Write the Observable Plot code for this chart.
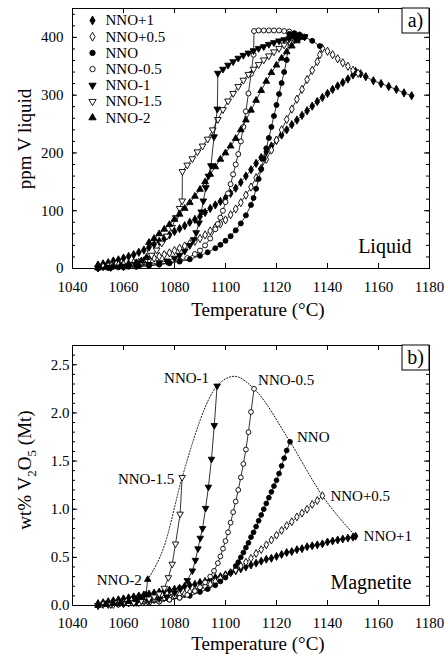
<!DOCTYPE html>
<html>
<head>
<meta charset="utf-8">
<script src="https://cdn.jsdelivr.net/npm/d3@7"></script>
<script src="https://cdn.jsdelivr.net/npm/@observablehq/plot@0.6"></script>
<style>
  body { margin: 0; background: #fff; }
  #chart { width: 444px; }
  #chart svg { display: block; }
  #chart svg, #chart svg text { font-family: "Liberation Serif", "DejaVu Serif", serif !important; }
</style>
</head>
<body>
<div id="chart"></div>
<script>
// ---- Buffer labels (oxygen fugacity relative to Ni-NiO) ----
const seriesNames = ["NNO+1", "NNO+0.5", "NNO", "NNO-0.5", "NNO-1", "NNO-1.5", "NNO-2"];

// ---- Axis ticks ----
const tempTicks = [1040, 1060, 1080, 1100, 1120, 1140, 1160, 1180];
const liqTicks = [0, 100, 200, 300, 400];
const mtTicks = [0, 0.5, 1.0, 1.5, 2.0, 2.5];

// ---- (a) V in liquid, ppm: [temperature °C, ppm] ----
const liqNNOp1 = [[1050,6],[1052,8],[1054,10],[1056,13],[1058,15],[1060,18],[1062,21],[1064,24],[1066,28],[1068,32],[1070,37],[1072,42],[1074,47],[1076,52],[1078,58],[1080,64],[1082,69],[1084,74],[1086,80],[1088,85],[1090,90],[1092,97],[1094,104],[1096,110],[1098,116],[1100,122],[1102,130],[1104,139],[1106,149],[1108,160],[1110,171],[1112,182],[1114,192],[1116,202],[1118,212],[1120,222],[1122,231],[1124,240],[1126,249],[1128,257],[1130,265],[1132,273],[1134,281],[1136,289],[1138,296],[1140,303],[1142,310],[1144,316],[1146,322],[1148,328],[1150,335],[1151,341],[1153,337],[1155,332],[1158,325],[1161,320],[1164,315],[1167,310],[1170,304],[1173,299]];
const liqNNOp05 = [[1050,2],[1052,3],[1054,4],[1056,5],[1058,6],[1060,7],[1062,8],[1064,10],[1066,11],[1068,13],[1070,15],[1072,18],[1074,21],[1076,24],[1078,27],[1080,31],[1082,35],[1084,39],[1086,43],[1088,47],[1090,52],[1092,58],[1094,65],[1096,71],[1098,77],[1100,84],[1102,93],[1104,103],[1106,114],[1108,127],[1110,141],[1112,157],[1114,173],[1116,189],[1118,205],[1120,222],[1122,240],[1124,258],[1126,276],[1128,293],[1130,310],[1132,327],[1134,343],[1136,358],[1137,370],[1138,381],[1140,376],[1142,370],[1144,363],[1146,356],[1148,350],[1150,343],[1152,338]];
const liqNNO = [[1050,1],[1054,1],[1058,2],[1062,3],[1066,4],[1070,5],[1074,7],[1078,9],[1082,12],[1086,16],[1090,22],[1093,28],[1096,35],[1098,41],[1100,48],[1102,56],[1104,66],[1106,78],[1108,92],[1110,110],[1111,122],[1112,138],[1113,155],[1114,172],[1115,190],[1116,208],[1117,226],[1118,245],[1119,264],[1120,283],[1121,302],[1122,321],[1123,340],[1124,361],[1125,406],[1127,407],[1129,405],[1131,401],[1134,394],[1137,385]];
const liqNNOm05 = [[1050,1],[1055,1],[1060,2],[1065,3],[1070,5],[1074,7],[1078,10],[1082,14],[1085,18],[1088,25],[1090,31],[1092,40],[1094,52],[1096,68],[1097,77],[1098,88],[1099,100],[1100,115],[1101,130],[1102,146],[1103,163],[1104,180],[1105,198],[1106,220],[1107,245],[1108,272],[1109,303],[1110,337],[1111,370],[1111.2,411],[1113,412],[1115,412],[1117,412],[1119,412],[1121,412],[1123,411],[1125,410],[1127,407],[1129,404],[1131,401]];
const liqNNOm1 = [[1050,1],[1055,2],[1060,3],[1065,5],[1070,7],[1074,10],[1077,13],[1080,18],[1082,23],[1084,30],[1086,40],[1087.5,50],[1088.5,62],[1089.6,79],[1090.5,98],[1091.3,117],[1092.3,140],[1093.3,160],[1094.3,178],[1095.5,228],[1096.8,276],[1097,338],[1099,345],[1101,352],[1103,358],[1105,364],[1107,369],[1109,373],[1111,377],[1113,381],[1115,384],[1117,388],[1119,391],[1121,394],[1123,396],[1125,398],[1127,400],[1129,401],[1131,401]];
const liqNNOm15 = [[1050,1],[1055,2],[1060,4],[1064,7],[1067,11],[1069,16],[1071,23],[1073,32],[1075,44],[1077,56],[1079,71],[1080.5,88],[1082,104],[1083,117],[1083.1,168],[1085,179],[1087,190],[1089,202],[1091,212],[1093,224],[1095,240],[1097,258],[1099,275],[1101,290],[1103,303],[1105,315],[1107,326],[1109,336],[1111,345],[1113,353],[1115,361],[1117,368],[1119,375],[1121,381],[1123,387],[1125,392],[1127,396],[1129,399],[1131,401]];
const liqNNOm2 = [[1050,1],[1053,2],[1056,3],[1059,5],[1062,7],[1065,10],[1067,13],[1069,19],[1070,45],[1072,52],[1074,60],[1076,68],[1078,76],[1080,85],[1082,94],[1084,104],[1086,114],[1088,125],[1090,137],[1092,150],[1094,163],[1096,176],[1098,189],[1100,200],[1102,212],[1104,225],[1106,240],[1108,257],[1110,274],[1112,291],[1114,308],[1116,324],[1118,339],[1120,352],[1122,364],[1124,375],[1126,385],[1128,394],[1130,400]];

// ---- (b) V2O5 in magnetite, wt%: [temperature °C, wt%] ----
const mtNNOp1 = [[1050,0.02],[1052,0.03],[1054,0.04],[1056,0.05],[1058,0.06],[1060,0.07],[1062,0.08],[1064,0.09],[1066,0.10],[1068,0.11],[1070,0.12],[1072,0.13],[1074,0.14],[1076,0.15],[1078,0.16],[1080,0.17],[1082,0.18],[1084,0.20],[1086,0.21],[1088,0.22],[1090,0.24],[1092,0.25],[1094,0.27],[1096,0.29],[1098,0.30],[1100,0.32],[1102,0.34],[1104,0.36],[1106,0.38],[1108,0.40],[1110,0.42],[1112,0.44],[1114,0.46],[1116,0.48],[1118,0.49],[1120,0.51],[1122,0.53],[1124,0.55],[1126,0.56],[1128,0.58],[1130,0.59],[1132,0.61],[1134,0.62],[1136,0.63],[1138,0.64],[1140,0.66],[1142,0.67],[1144,0.68],[1146,0.69],[1148,0.70],[1150,0.71],[1151,0.72]];
const mtNNOp05 = [[1050,0.00],[1052,0.01],[1054,0.01],[1056,0.01],[1058,0.02],[1060,0.02],[1062,0.03],[1064,0.03],[1066,0.04],[1068,0.04],[1070,0.05],[1072,0.06],[1074,0.07],[1076,0.08],[1078,0.09],[1080,0.10],[1082,0.11],[1084,0.12],[1086,0.14],[1088,0.16],[1090,0.18],[1092,0.20],[1094,0.22],[1096,0.25],[1098,0.28],[1100,0.31],[1102,0.34],[1104,0.37],[1106,0.41],[1108,0.45],[1110,0.49],[1112,0.54],[1114,0.58],[1116,0.63],[1118,0.68],[1120,0.73],[1122,0.78],[1124,0.83],[1126,0.87],[1128,0.92],[1130,0.96],[1132,1.00],[1134,1.05],[1136,1.09],[1138,1.14]];
const mtNNO = [[1050,0.00],[1054,0.01],[1058,0.01],[1062,0.02],[1066,0.02],[1070,0.03],[1074,0.04],[1078,0.06],[1082,0.08],[1086,0.10],[1090,0.14],[1093,0.17],[1096,0.21],[1098,0.25],[1100,0.29],[1102,0.34],[1104,0.41],[1105,0.45],[1106,0.50],[1107,0.55],[1108,0.60],[1109,0.65],[1110,0.71],[1111,0.76],[1112,0.82],[1113,0.88],[1114,0.94],[1115,1.00],[1116,1.06],[1117,1.12],[1118,1.18],[1119,1.24],[1120,1.30],[1121,1.37],[1122,1.45],[1123,1.53],[1124,1.61],[1125.3,1.70]];
const mtNNOm05 = [[1050,0.00],[1054,0.01],[1058,0.01],[1062,0.02],[1066,0.02],[1070,0.03],[1074,0.04],[1078,0.06],[1082,0.08],[1085,0.11],[1088,0.15],[1090,0.19],[1092,0.24],[1094,0.30],[1095.5,0.36],[1097,0.44],[1098,0.51],[1099,0.59],[1100,0.67],[1101,0.76],[1102,0.86],[1103,0.97],[1104,1.08],[1105,1.20],[1106,1.33],[1107,1.47],[1108,1.62],[1109,1.80],[1110,2.01],[1111.2,2.25]];
const mtNNOm1 = [[1050,0.00],[1055,0.01],[1060,0.02],[1065,0.03],[1070,0.05],[1074,0.07],[1077,0.09],[1080,0.13],[1082.5,0.18],[1085,0.26],[1087,0.36],[1088.2,0.47],[1089.2,0.59],[1090.1,0.70],[1091,0.80],[1092.2,1.01],[1093.3,1.23],[1094.5,1.52],[1095.6,1.87],[1096.7,2.28]];
const mtNNOm15 = [[1050,0.00],[1055,0.01],[1060,0.02],[1064,0.03],[1067,0.05],[1070,0.07],[1072,0.09],[1074,0.12],[1076,0.18],[1077.6,0.29],[1079.1,0.43],[1080.4,0.64],[1082.2,0.95],[1083,1.33]];
const mtNNOm2 = [[1050,0.00],[1053,0.01],[1056,0.02],[1059,0.03],[1062,0.04],[1065,0.06],[1067,0.08],[1068.8,0.11],[1069.5,0.27]];

// Extra points on the dotted saturation envelope between series end points
const envelopeLow = [1076, 0.62];
const envelopeTop = [1103.5, 2.38];

// ---- Symbols ----
const triangleDown = {
  draw(context, size) {
    const y = -Math.sqrt(size / (Math.sqrt(3) * 3));
    context.moveTo(0, -y * 2);
    context.lineTo(-Math.sqrt(3) * y, y);
    context.lineTo(Math.sqrt(3) * y, y);
    context.closePath();
  }
};
const markerStyle = {
  "NNO+1":   {symbol: "diamond", fill: "black"},
  "NNO+0.5": {symbol: "diamond", fill: "white"},
  "NNO":     {symbol: "circle", fill: "black"},
  "NNO-0.5": {symbol: "circle", fill: "white"},
  "NNO-1":   {symbol: triangleDown, fill: "black"},
  "NNO-1.5": {symbol: triangleDown, fill: "white"},
  "NNO-2":   {symbol: "triangle", fill: "black"}
};

const WIDTH = 444, ML = 72, MR = 15;
const FW = WIDTH - ML - MR;               // frame width
const FONT = '"Liberation Serif", "DejaVu Serif", serif';

function seriesMarks(points, name, r) {
  const st = markerStyle[name];
  return [
    Plot.line(points, {x: d => d[0], y: d => d[1], stroke: "black", strokeWidth: 0.8}),
    Plot.dot(points, {x: d => d[0], y: d => d[1], symbol: st.symbol, r, fill: st.fill, stroke: "black", strokeWidth: 0.9})
  ];
}

// ticks pointing into the frame on all four sides
function inwardY(values, len) {
  return [
    Plot.tickY(values, {y: d => d, insetRight: FW - len, stroke: "black"}),
    Plot.tickY(values, {y: d => d, insetLeft: FW - len, stroke: "black"})
  ];
}
function inwardX(values, len, fh) {
  return [
    Plot.tickX(values, {x: d => d, insetTop: fh - len, stroke: "black"}),
    Plot.tickX(values, {x: d => d, insetBottom: fh - len, stroke: "black"})
  ];
}

function panelBox(svg, label, frameTop) {
  svg.append("rect").attr("x", WIDTH - MR - 27).attr("y", frameTop).attr("width", 27).attr("height", 25)
    .attr("fill", "white").attr("stroke", "black");
  svg.append("text").attr("x", WIDTH - MR - 13.5).attr("y", frameTop + 19).attr("text-anchor", "middle")
    .attr("font-size", 20).text(label);
}

// ================= (a) Liquid =================
const topH = 325, topMT = 8, topMB = 57;
const topFH = topH - topMT - topMB;
const liqSeries = [
  ["NNO+1", liqNNOp1], ["NNO+0.5", liqNNOp05], ["NNO-0.5", liqNNOm05], ["NNO-1.5", liqNNOm15],
  ["NNO", liqNNO], ["NNO-1", liqNNOm1], ["NNO-2", liqNNOm2]
];
const legendMarks = seriesNames.flatMap((name, i) => [
  Plot.dot([name], {frameAnchor: "top-left", dx: 20, dy: 12 + i * 16.2, symbol: markerStyle[name].symbol, r: 2.7,
    fill: markerStyle[name].fill, stroke: "black", strokeWidth: 0.9}),
  Plot.text([name], {frameAnchor: "top-left", dx: 33, dy: 12 + i * 16.2, textAnchor: "start", lineAnchor: "middle", fontSize: 15})
]);

const topChart = Plot.plot({
  width: WIDTH, height: topH, marginLeft: ML, marginRight: MR, marginTop: topMT, marginBottom: topMB,
  style: {fontFamily: FONT, fontSize: "15px", color: "black", background: "white"},
  x: {domain: [1040, 1180]},
  y: {domain: [0, 450]},
  marks: [
    ...inwardY(d3.range(0, 451, 20), 3),
    ...inwardY(liqTicks, 5),
    ...inwardX(tempTicks, 5, topFH),
    Plot.axisX({ticks: tempTicks, tickSize: 0, tickPadding: 13, tickFormat: d => String(d), label: null}),
    Plot.axisY({ticks: liqTicks, tickSize: 0, tickPadding: 9, label: null}),
    ...liqSeries.flatMap(([name, pts]) => seriesMarks(pts, name, 2.5)),
    ...legendMarks,
    Plot.text(["Liquid"], {frameAnchor: "bottom-right", dx: -18, dy: -16, textAnchor: "end", lineAnchor: "bottom", fontSize: 20}),
    Plot.frame({stroke: "black", strokeWidth: 1})
  ]
});
{
  const s = d3.select(topChart);
  panelBox(s, "a)", topMT);
  s.append("text").attr("transform", "translate(31,139) rotate(-90)").attr("text-anchor", "middle")
    .attr("font-size", 19).text("ppm V liquid");
  s.append("text").attr("x", 258).attr("y", 316).attr("text-anchor", "middle")
    .attr("font-size", 19).text("Temperature (°C)");
}

// ================= (b) Magnetite =================
const botH = 336, botMT = 20, botMB = 56;
const botFH = botH - botMT - botMB;
const mtSeries = [
  ["NNO+1", mtNNOp1], ["NNO+0.5", mtNNOp05], ["NNO", mtNNO], ["NNO-0.5", mtNNOm05],
  ["NNO-1", mtNNOm1], ["NNO-1.5", mtNNOm15], ["NNO-2", mtNNOm2]
];
const lastOf = arr => arr[arr.length - 1];
const envelope = [
  lastOf(mtNNOm2), envelopeLow, lastOf(mtNNOm15), lastOf(mtNNOm1), envelopeTop,
  lastOf(mtNNOm05), lastOf(mtNNO), lastOf(mtNNOp05), lastOf(mtNNOp1)
];
// label placement next to each series end point
const endLabels = [
  ["NNO-2", mtNNOm2, "end", -6, 1],
  ["NNO-1.5", mtNNOm15, "end", -8, 2],
  ["NNO-1", mtNNOm1, "end", -8, -8],
  ["NNO-0.5", mtNNOm05, "start", 4, -9],
  ["NNO", mtNNO, "start", 7, -5],
  ["NNO+0.5", mtNNOp05, "start", 8, 0],
  ["NNO+1", mtNNOp1, "start", 8, 0]
];

const botChart = Plot.plot({
  width: WIDTH, height: botH, marginLeft: ML, marginRight: MR, marginTop: botMT, marginBottom: botMB,
  style: {fontFamily: FONT, fontSize: "15px", color: "black", background: "white"},
  x: {domain: [1040, 1180]},
  y: {domain: [0, 2.7]},
  marks: [
    ...inwardY(d3.range(0, 2.65, 0.1), 3),
    ...inwardY(mtTicks, 5),
    ...inwardX(tempTicks, 5, botFH),
    Plot.axisX({ticks: tempTicks, tickSize: 0, tickPadding: 12, tickFormat: d => String(d), label: null}),
    Plot.axisY({ticks: mtTicks, tickSize: 0, tickPadding: 3, tickFormat: d => d.toFixed(1), label: null}),
    Plot.line(envelope, {x: d => d[0], y: d => d[1], curve: "monotone-x", stroke: "black", strokeWidth: 0.9, strokeDasharray: "1.2,1.8"}),
    ...mtSeries.flatMap(([name, pts]) => seriesMarks(pts, name, 2.4)),
    ...endLabels.map(([name, pts, anchor, dx, dy]) =>
      Plot.text([lastOf(pts)], {x: d => d[0], y: d => d[1], text: () => name, textAnchor: anchor, dx, dy, fontSize: 15})),
    Plot.text(["Magnetite"], {frameAnchor: "bottom-right", dx: -18, dy: -17, textAnchor: "end", lineAnchor: "bottom", fontSize: 20}),
    Plot.frame({stroke: "black", strokeWidth: 1})
  ]
});
{
  const s = d3.select(botChart);
  panelBox(s, "b)", botMT);
  const yl = s.append("text").attr("transform", "translate(31,145) rotate(-90)").attr("text-anchor", "middle")
    .attr("font-size", 19);
  yl.append("tspan").text("wt% V");
  yl.append("tspan").attr("dy", 5).attr("font-size", 13).text("2");
  yl.append("tspan").attr("dy", -5).text("O");
  yl.append("tspan").attr("dy", 5).attr("font-size", 13).text("5");
  yl.append("tspan").attr("dy", -5).text(" (Mt)");
  s.append("text").attr("x", 258).attr("y", 325).attr("text-anchor", "middle")
    .attr("font-size", 19).text("Temperature (°C)");
}

document.getElementById("chart").append(topChart, botChart);
</script>
</body>
</html>
